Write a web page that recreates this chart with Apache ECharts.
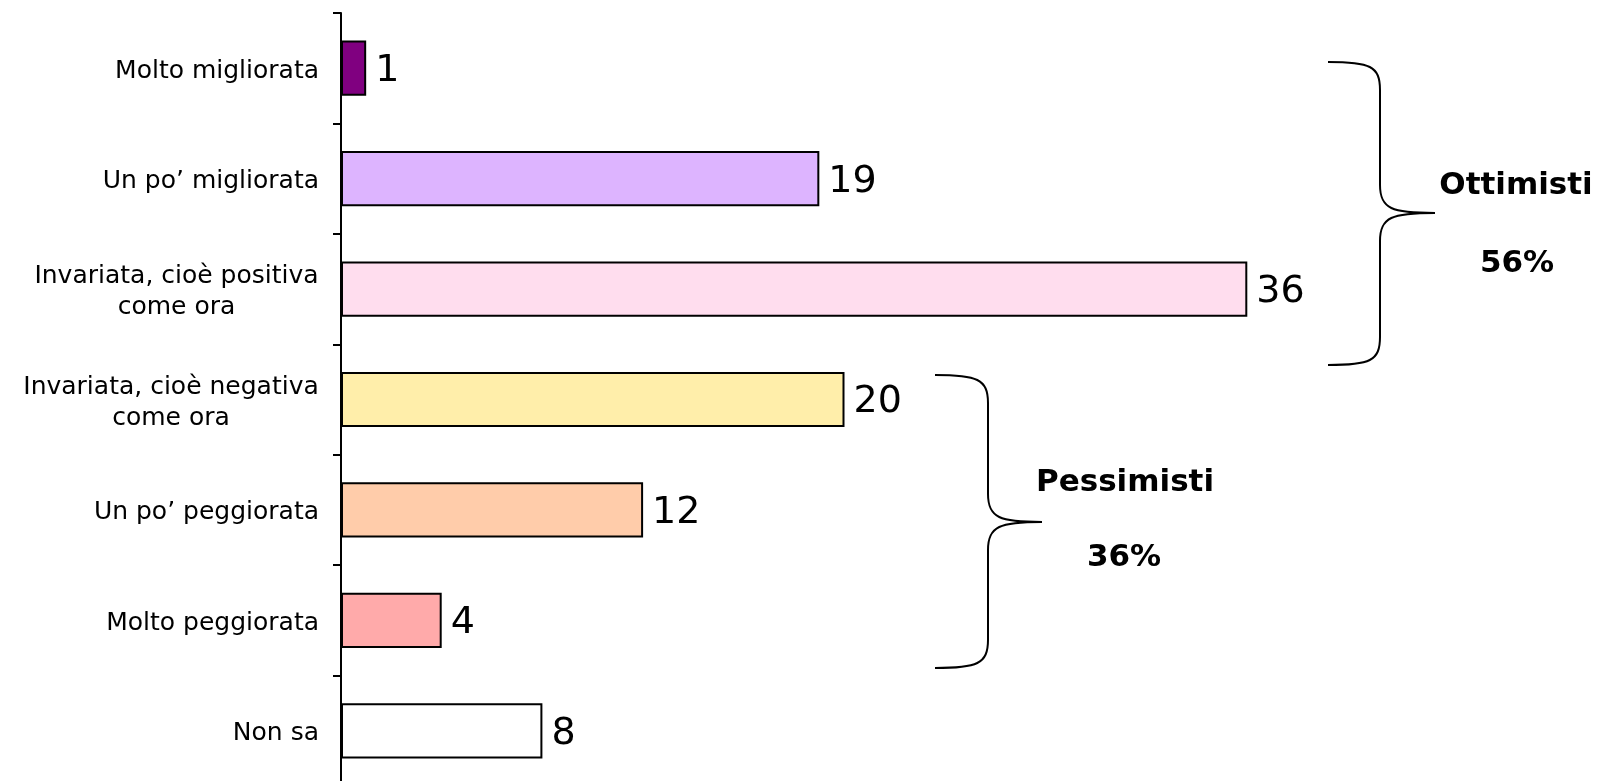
<!DOCTYPE html>
<html>
<head>
<meta charset="utf-8">
<style>
  html, body { margin: 0; padding: 0; background: #ffffff; }
  #chart { width: 1599px; height: 781px; }
</style>
<script src="https://cdn.jsdelivr.net/npm/echarts@6/dist/echarts.min.js"></script>
</head>
<body>
<div id="chart"></div>
<script>
const categories = [
  'Molto migliorata',
  'Un po\u2019 migliorata',
  'Invariata, cioè positiva\ncome ora',
  'Invariata, cioè negativa\ncome ora',
  'Un po\u2019 peggiorata',
  'Molto peggiorata',
  'Non sa'
]
const values = [1, 19, 36, 20, 12, 4, 8]
const barColors = ['#800080', '#ddb4ff', '#ffddee', '#ffeeaa', '#ffccaa', '#ffaaaa', '#ffffff']

const groupLabels = ['Ottimisti', 'Pessimisti']
const groupShares = ['56%', '36%']

const fontFamily = '"DejaVu Sans", Verdana, sans-serif'
const labelSize = 25
const labelLine = 31

// two-line labels: each line sits centred under the longest one
const measureCtx = document.createElement('canvas').getContext('2d')
measureCtx.font = labelSize + 'px ' + fontFamily

const richStyles = {}
categories.forEach((text, i) => {
  const lines = text.split('\n')
  if (lines.length > 1) {
    let w = 0
    lines.forEach((line) => {
      w = Math.max(w, measureCtx.measureText(line).width)
    })
    richStyles['c' + i] = {
      width: Math.ceil(w),
      align: 'center',
      fontFamily: fontFamily,
      fontSize: labelSize,
      lineHeight: labelLine,
      color: '#000000'
    }
  }
})

function formatCategory(text, index) {
  const lines = text.split('\n')
  if (lines.length === 1) {
    return text
  }
  return lines.map((line) => '{c' + index + '|' + line + '}').join('\n')
}

const chart = echarts.init(document.getElementById('chart'))

const braceStyle = { fill: null, stroke: '#000000', lineWidth: 2 }

function curve(x1, y1, cx1, cy1, cx2, cy2, x2, y2) {
  return {
    type: 'bezierCurve',
    shape: { x1: x1, y1: y1, cpx1: cx1, cpy1: cy1, cpx2: cx2, cpy2: cy2, x2: x2, y2: y2 },
    style: braceStyle
  }
}

function straight(x1, y1, x2, y2) {
  return {
    type: 'line',
    shape: { x1: x1, y1: y1, x2: x2, y2: y2 },
    style: braceStyle
  }
}

function braceGraphic(x0, yTop, xMid, xTip, yTip, yBottom) {
  const r = 28
  return {
    type: 'group',
    children: [
      curve(x0, yTop, x0 + 42, yTop, xMid, yTop + 4, xMid, yTop + r),
      straight(xMid, yTop + r, xMid, yTip - r),
      curve(xMid, yTip - r, xMid, yTip - 4, xMid + 12, yTip, xTip, yTip),
      curve(xTip, yTip, xMid + 12, yTip, xMid, yTip + 4, xMid, yTip + r),
      straight(xMid, yTip + r, xMid, yBottom - r),
      curve(xMid, yBottom - r, xMid, yBottom - 4, x0 + 42, yBottom, x0, yBottom)
    ]
  }
}

function groupText(x, y, text) {
  return {
    type: 'text',
    x: x,
    y: y,
    style: {
      text: text,
      fill: '#000000',
      font: 'bold 31px ' + fontFamily,
      align: 'center',
      verticalAlign: 'middle'
    }
  }
}

chart.setOption({
  animation: false,
  backgroundColor: '#ffffff',
  grid: {
    left: 341,
    top: 13,
    width: 1007,
    height: 773,
    outerBoundsMode: 'none'
  },
  xAxis: {
    type: 'value',
    min: 0,
    max: 40,
    show: false
  },
  yAxis: {
    type: 'category',
    inverse: true,
    data: categories,
    axisLine: {
      show: true,
      lineStyle: { color: '#000000', width: 2 }
    },
    axisTick: {
      show: true,
      length: 8,
      lineStyle: { color: '#000000', width: 2 }
    },
    axisLabel: {
      margin: 22,
      padding: [6, 0, 0, 0],
      color: '#000000',
      fontFamily: fontFamily,
      fontSize: labelSize,
      lineHeight: labelLine,
      formatter: formatCategory,
      rich: richStyles
    }
  },
  series: [
    {
      type: 'bar',
      data: values.map((v, i) => ({
        value: v,
        itemStyle: { color: barColors[i] }
      })),
      barCategoryGap: '50%',
      itemStyle: {
        borderColor: '#000000',
        borderWidth: 2
      },
      label: {
        show: true,
        position: 'right',
        distance: 9,
        offset: [0, 3],
        color: '#000000',
        fontFamily: fontFamily,
        fontSize: 38
      }
    }
  ],
  graphic: [
    braceGraphic(1328, 62, 1380, 1435, 213, 365),
    braceGraphic(935, 375, 988, 1042, 522, 668),
    groupText(1516, 186, groupLabels[0]),
    groupText(1517, 264, groupShares[0]),
    groupText(1125, 483, groupLabels[1]),
    groupText(1124, 558, groupShares[1])
  ]
})
</script>
</body>
</html>
